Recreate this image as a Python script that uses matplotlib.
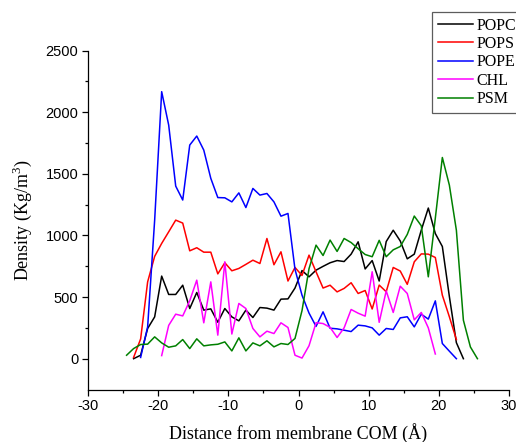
import numpy as np
import matplotlib
matplotlib.use("Agg")
import matplotlib.pyplot as plt
from matplotlib.ticker import MultipleLocator

plt.rcParams["axes.unicode_minus"] = False
serif = "Liberation Serif"
plt.rcParams["mathtext.fontset"] = "custom"
plt.rcParams["mathtext.rm"] = serif

# Bin centres (Å) for each lipid density profile
popc_x = np.arange(-23.5, 24.0, 1.0)
pops_x = np.arange(-23.5, 23.0, 1.0)
pope_x = np.arange(-22.5, 23.0, 1.0)
chl_x = np.arange(-19.5, 20.0, 1.0)
psm_x = np.arange(-24.5, 26.0, 1.0)

popc = [0, 28, 245, 339, 670, 521, 521, 596, 407, 537, 394, 404, 296,
        407, 339, 307, 394, 334, 415, 410, 394, 483, 485,
        573,
        715, 664, 718, 749, 778, 796, 788, 848, 948,
        728, 796, 630, 950, 1042, 955, 810, 848, 1043, 1222, 1015, 910, 505, 130, 0]

pops = [10, 160, 623, 830, 935, 1029, 1124, 1100, 875, 900, 864, 864, 688,
        778, 713, 732, 765, 799, 772, 975, 762, 867, 630,
        740,
        675, 840, 705, 573, 596, 542, 570, 616, 529,
        553, 403, 597, 543, 740, 711, 603, 786, 850, 848, 821, 515, 340, 155]

pope = [10, 258, 1124, 2166, 1895, 1400, 1287, 1733, 1806, 1692, 1463, 1307,
        1305, 1272, 1345, 1226, 1381, 1327, 1340, 1272, 1156, 1178,
        725,
        515, 370, 262, 380, 247, 242, 231, 220, 272,
        266, 250, 191, 245, 237, 331, 340, 258, 361, 321, 469, 123, 61, 0]

chl = [25, 270, 361, 347, 470, 637, 291, 623, 191, 786,
       200, 448, 407, 245, 177, 223, 204, 291, 253,
       28,
       5, 105, 292, 285, 254, 172, 250, 399, 369, 345, 705, 295, 550, 375,
       588, 529, 315, 375, 250, 38]

psm = [28, 82, 115, 118, 177, 128, 93, 104, 155, 82, 161, 104, 112, 117,
       136, 63, 169, 63, 128, 104, 145, 96, 123, 115,
       164,
       390, 730, 921, 837, 962, 870, 975, 942, 892,
       845, 827, 960, 827, 883, 910, 1008, 1157, 1078, 664, 1140, 1632, 1408,
       1042, 312, 95, 0]

series = [
    ("POPC", popc_x, popc, "black"),
    ("POPS", pops_x, pops, "#ff0000"),
    ("POPE", pope_x, pope, "#0000ff"),
    ("CHL", chl_x, chl, "#ff00ff"),
    ("PSM", psm_x, psm, "#008000"),
]

W, H = 516, 442
fig = plt.figure(figsize=(W / 100, H / 100), dpi=100)
ax_bottom = 442 - 389.5
ax_top = 442 - 50.5
ax = fig.add_axes([88 / W, ax_bottom / H, 421 / W, (ax_top - ax_bottom) / H])

for name, xs, ys, col in series:
    ax.plot(xs, ys, color=col, lw=1.1, label=name)

ax.set_xlim(-30, 30)
ax.set_ylim(-250, 2500)
ax.xaxis.set_major_locator(MultipleLocator(10))
ax.xaxis.set_minor_locator(MultipleLocator(5))
ax.set_yticks([0, 500, 1000, 1500, 2000, 2500])
ax.set_yticks(np.arange(250, 2500, 500), minor=True)

for s in ("top", "right"):
    ax.spines[s].set_visible(False)
for s in ("left", "bottom"):
    ax.spines[s].set_linewidth(0.9)

ax.tick_params(which="major", direction="out", length=4, width=0.9,
               labelsize=10.5, pad=3)
ax.tick_params(which="minor", direction="out", length=2.5, width=0.9)
for lab in ax.get_xticklabels() + ax.get_yticklabels():
    lab.set_fontfamily("Liberation Sans")

ax.set_xlabel("Distance from membrane COM (Å)", fontsize=13, family=serif,
              labelpad=7)
ax.set_ylabel("Density (Kg/m$^3$)", fontsize=13, family=serif, labelpad=8)

leg = fig.legend(loc="upper left", bbox_to_anchor=(432 / W, 1 - 12 / H),
                 prop={"family": serif, "size": 11.5}, frameon=True,
                 fancybox=False, handlelength=2.2, handletextpad=0.25,
                 borderpad=0.35, labelspacing=0.15, borderaxespad=0)
leg.get_frame().set_edgecolor("#333333")
leg.get_frame().set_linewidth(0.9)

fig.savefig("out.png", dpi=100)
